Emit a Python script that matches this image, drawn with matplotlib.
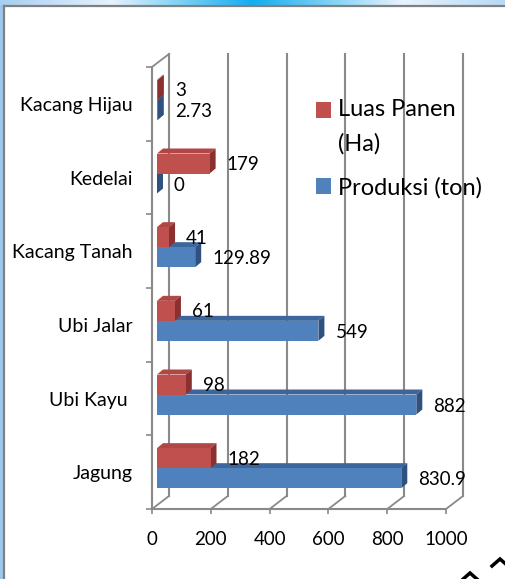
import numpy as np
import matplotlib.pyplot as plt
from matplotlib.patches import Polygon, Rectangle
from matplotlib.colors import LinearSegmentedColormap
from matplotlib.legend_handler import HandlerPatch

categories = ["Jagung", "Ubi Kayu ", "Ubi Jalar", "Kacang Tanah", "Kedelai", "Kacang Hijau"]
luas_panen = [182, 98, 61, 41, 179, 3]
produksi = [830.9, 882, 549, 129.89, 0, 2.73]
luas_labels = ["182", "98", "61", "41", "179", "3"]
produksi_labels = ["830.9", "882", "549", "129.89", "0", "2.73"]
x_ticks = [0, 200, 400, 600, 800, 1000]
legend_labels = ["Luas Panen\n(Ha)", "Produksi (ton)"]

plt.rcParams['font.family'] = ['Lato', 'DejaVu Sans']

W, H = 505, 579
fig = plt.figure(figsize=(W / 100, H / 100), dpi=100)
fig.patch.set_facecolor("white")

# background frame (slide border)
bg = fig.add_axes([0, 0, 1, 1], zorder=-5)
bg.set_xlim(0, W)
bg.set_ylim(H, 0)
bg.axis("off")
cmap = LinearSegmentedColormap.from_list(
    "strip", [(0, "#a6cff1"), (0.22, "#e6f2fc"), (0.5, "#10aef0"), (0.8, "#e8f3fc"), (1, "#b6d9f5")])
bg.imshow(np.linspace(0, 1, 256)[None, :], cmap=cmap, aspect="auto", extent=[0, W, 5, 0])
bg.add_patch(Rectangle((0, 5), 3, H, color="#9dc8ee"))
bg.plot([4, 4], [6, H], color="#808080", lw=1.6)
bg.plot([4, W], [6, 6], color="#808080", lw=1.6)
bg.plot([462, 470, 478], [580, 573, 580], color="black", lw=2.5, solid_joinstyle="miter")
bg.plot([492, 500, 508], [566, 559, 566], color="black", lw=2.5, solid_joinstyle="miter")

# front plane of the pseudo 3d box, in pixels
left, right, top, bottom = 152, 446, 67, 509
ax = fig.add_axes([left / W, 1 - bottom / H, (right - left) / W, (bottom - top) / H])
ax.set_xlim(0, 1000)
ax.set_ylim(-0.5, 5.5)
sx = (right - left) / 1000
sy = (bottom - top) / 6


def dx(p):
    return p / sx


def dy(p):
    return p / sy


grid_col = "#898989"
wall_x, wall_y = dx(17), dy(13)
for t in x_ticks:
    ax.plot([t + wall_x, t + wall_x], [-0.5 + wall_y, 5.5 + wall_y], color=grid_col, lw=1.5,
            clip_on=False, zorder=1)
    ax.plot([t, t + wall_x], [-0.5, -0.5 + wall_y], color=grid_col, lw=1.3, clip_on=False, zorder=1)
ax.plot([0, wall_x], [5.5, 5.5 + wall_y], color=grid_col, lw=1.3, clip_on=False, zorder=1)

# bars
bx, by = dx(5), dy(4)
depth_x, depth_y = dx(6), dy(5)
h = dy(20)
y = np.arange(len(categories))

red, red_top, red_side = "#c0504d", "#b04744", "#8a302e"
blue, blue_top, blue_side = "#4f81bd", "#3d679c", "#2e5180"


def bar3d(x0, yc, val, topc, side, z):
    yb, yt = yc - h / 2, yc + h / 2
    x1 = x0 + val
    ax.add_patch(Polygon([(x0, yt), (x0 + depth_x, yt + depth_y), (x1 + depth_x, yt + depth_y), (x1, yt)],
                         closed=True, facecolor=topc, edgecolor="none", zorder=z, clip_on=False))
    ax.add_patch(Polygon([(x1, yb), (x1, yt), (x1 + depth_x, yt + depth_y), (x1 + depth_x, yb + depth_y)],
                         closed=True, facecolor=side, edgecolor="none", zorder=z, clip_on=False))


blue_y = y + by - h / 2
red_y = y + by + h / 2
for i in range(len(categories)):
    bar3d(bx, blue_y[i], produksi[i], blue_top, blue_side, 2 + i * 2)
    bar3d(bx, red_y[i], luas_panen[i], red_top, red_side, 3 + i * 2)
    pb = ax.barh(blue_y[i], produksi[i], height=h, left=bx, color=blue, zorder=2 + i * 2 + 0.5, clip_on=False)
    pr = ax.barh(red_y[i], luas_panen[i], height=h, left=bx, color=red, zorder=3 + i * 2 + 0.5, clip_on=False)

for i in range(len(categories)):
    ax.text(bx + luas_panen[i] + dx(17), red_y[i] - dy(1), luas_labels[i], fontsize=13.5,
            va="center", ha="left", zorder=20)
    ax.text(bx + produksi[i] + dx(17), blue_y[i] - dy(1.5), produksi_labels[i], fontsize=13.5,
            va="center", ha="left", zorder=20)

# axes
for s in ["top", "right"]:
    ax.spines[s].set_visible(False)
for s in ["left", "bottom"]:
    ax.spines[s].set_color(grid_col)
    ax.spines[s].set_linewidth(1.5)
ax.set_facecolor("none")
ax.set_xticks(x_ticks)
ax.set_xticklabels([str(t) for t in x_ticks], fontsize=13.5)
ax.tick_params(axis="x", length=3.5, width=1.2, color=grid_col, pad=12)
ax.set_yticks(y)
ax.set_yticklabels(categories, fontsize=14)
ax.tick_params(axis="y", which="major", length=0, pad=14)
ax.set_yticks(np.arange(-0.5, 6, 1), minor=True)
ax.tick_params(axis="y", which="minor", length=4, width=1.2, color=grid_col)


def first_line_patch(legend, orig_handle, xdescent, ydescent, width, height, fontsize):
    return Rectangle((-xdescent, -ydescent + 12), width, height)


leg = ax.legend([pr[0], pb[0]], legend_labels, loc="upper left", bbox_to_anchor=(316 / W, 1 - 99 / H),
                bbox_transform=fig.transFigure, frameon=False, fontsize=17, handlelength=0.65,
                handleheight=0.65, handletextpad=0.3, labelspacing=0.96, borderpad=0, borderaxespad=0,
                handler_map={pr[0]: HandlerPatch(patch_func=first_line_patch)})
leg.get_texts()[0].set_linespacing(1.72)

fig.savefig("out.png", dpi=100)
